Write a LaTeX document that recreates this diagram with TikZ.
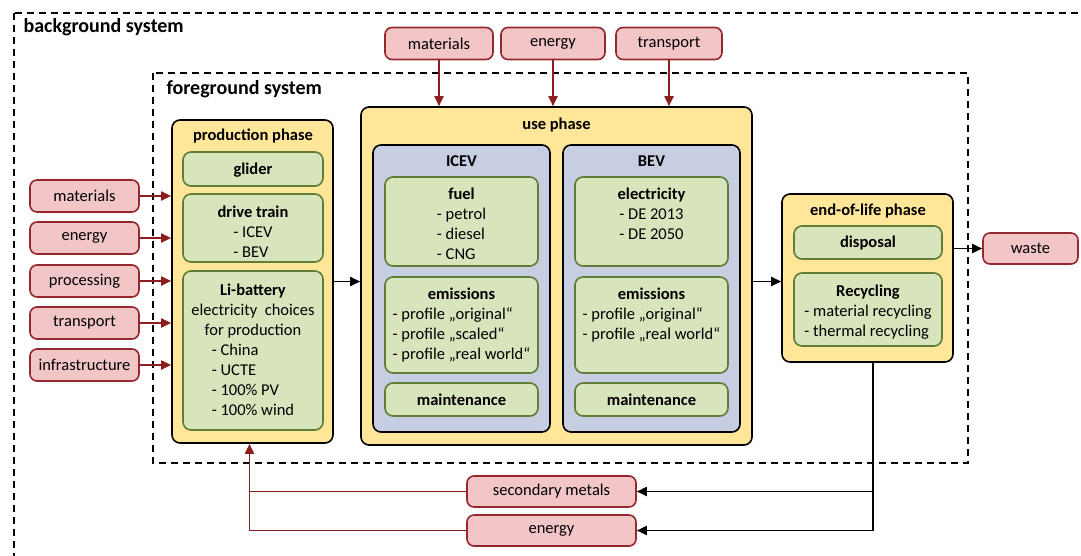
\documentclass[tikz,border=0pt]{standalone}
\usepackage{fontspec}
\setmainfont{Carlito}
\usepackage{tikz}
\usetikzlibrary{arrows.meta}

\definecolor{inred}{HTML}{F2C5C6}
\definecolor{inredline}{HTML}{96282D}
\definecolor{flowred}{HTML}{8C1E1E}
\definecolor{phaseyellow}{HTML}{FFE699}
\definecolor{partgreen}{HTML}{D8E4BC}
\definecolor{partgreenline}{HTML}{5F7D37}
\definecolor{vehblue}{HTML}{C8CEE1}

% stacked lines of a part box, 20pt apart, optionally lowered
\newcommand{\partlines}[2][0pt]{\raisebox{-#1}[\height][\depth]{\begin{tabular}{@{}c@{}}#2\end{tabular}}}
\newcommand{\items}[1]{\begin{tabular}[t]{@{}l@{}}#1\end{tabular}}

\begin{document}
\begin{tikzpicture}[x=1pt,y=-1pt,
        txt/.style={font=\fontsize{16.5}{20}\selectfont},
        hd/.style={font=\fontsize{16.5}{20}\selectfont\bfseries},
        sysname/.style={font=\fontsize{20}{22}\selectfont\bfseries, anchor=west},
        flow/.style={draw=inredline, fill=inred, line width=1.6pt, rounded corners=7pt, minimum height=32pt, txt},
        phase/.style={draw=black, fill=phaseyellow, line width=1.6pt, rounded corners=8pt},
        vehicle/.style={draw=black, fill=vehblue, line width=1.6pt, rounded corners=8pt},
        part/.style={draw=partgreenline, fill=partgreen, line width=1.6pt, rounded corners=8pt, inner sep=0pt, txt}]
        \clip (0,0) rectangle (1081,555);
        \useasboundingbox (0,0) rectangle (1081,555);

        % system borders
        \draw[line width=1.6pt, dash pattern=on 7pt off 5pt] (14,13) rectangle (1100,575);
        \draw[line width=1.6pt, dash pattern=on 7pt off 5pt] (153,73) rectangle (968,463);
        \node[sysname] (bgs) at (20,27) {background system};
        \node[sysname] (fgs) at (163,89) {foreground system};

        \begin{scope}[every node/.style={flow}]
                \node[minimum width=108pt] (M1) at (439,43.5) {materials};
                \node[minimum width=104pt] (En1) at (553,43.5) {energy};
                \node[minimum width=106pt] (T1) at (669,43.5) {transport};

                \node[minimum width=109pt] (M2) at (84.5,196) {materials};
                \node[minimum width=109pt] (En2) at (84.5,238) {energy};
                \node[minimum width=109pt] (P2) at (84.5,281) {processing};
                \node[minimum width=109pt] (T2) at (84.5,323) {transport};
                \node[minimum width=109pt] (I2) at (84.5,365) {infrastructure};

                \node[minimum width=95pt, minimum height=31pt] (W) at (1030.5,248.5) {waste};
                \node[minimum width=169pt, minimum height=31pt] (SM) at (551.5,491.5) {secondary metals};
                \node[minimum width=169pt, minimum height=31pt] (En3) at (551.5,530.5) {energy};
        \end{scope}

        \begin{scope}[every node/.style={phase}]
                \node[minimum width=161pt, minimum height=323pt] (prod) at (252.5,281.5) {};
                \node[minimum width=391pt, minimum height=338pt] (use) at (556.5,276) {};
                \node[minimum width=171pt, minimum height=168pt] (eol) at (867.5,278) {};
        \end{scope}
        \begin{scope}[every node/.style={vehicle}]
                \node[minimum width=177pt, minimum height=287pt] (icev) at (461.5,288.5) {};
                \node[minimum width=177pt, minimum height=287pt] (bev) at (651.5,288.5) {};
        \end{scope}

        \node[hd] (prodT) at (253,136) {production phase};
        \node[hd] (useT) at (556.5,125) {use phase};
        \node[hd] (icevT) at (461.5,161) {ICEV};
        \node[hd] (bevT) at (651.5,161) {BEV};
        \node[hd] (eolT) at (868,211) {end-of-life phase};

        \begin{scope}[every node/.append style={part}]
                \node[minimum width=140pt, minimum height=34pt] (glider) at (253,169) {\partlines[1pt]{\textbf{glider}}};
                \node[minimum width=140pt, minimum height=68pt] (drive) at (253,228)
                        {\partlines[5pt]{\textbf{drive train}\\\items{- ICEV\\- BEV}}};
                \node[minimum width=140pt, minimum height=159pt] (li) at (253,350.5)
                        {\partlines[1pt]{\textbf{Li-battery}\\electricity\ \ choices\\for production\\\items{- China\\- UCTE\\- 100\% PV\\- 100\% wind}}};

                \node[minimum width=153pt, minimum height=89pt] (fuel) at (461.5,221.5)
                        {\partlines[4pt]{\textbf{fuel}\\\items{- petrol\\- diesel\\- CNG}}};
                \node[minimum width=153pt, minimum height=96pt] (emi1) at (461.5,325)
                        {\partlines{\textbf{emissions}\\\items{- profile „original“\\- profile „scaled“\\- profile „real world“}}};
                \node[minimum width=153pt, minimum height=33pt] (mnt1) at (461.5,399.5) {\partlines[1.5pt]{\textbf{maintenance}}};

                \node[minimum width=153pt, minimum height=89pt] (elec) at (651.5,221.5)
                        {\partlines[4pt]{\textbf{electricity}\\\items{- DE 2013\\- DE 2050\\\mbox{}}}};
                \node[minimum width=153pt, minimum height=96pt] (emi2) at (651.5,325)
                        {\partlines{\textbf{emissions}\\\items{- profile „original“\\- profile „real world“\\\mbox{}}}};
                \node[minimum width=153pt, minimum height=33pt] (mnt2) at (651.5,399.5) {\partlines[1.5pt]{\textbf{maintenance}}};

                \node[minimum width=148pt, minimum height=33pt] (disp) at (868,242.5) {\partlines[1pt]{\textbf{disposal}}};
                \node[minimum width=148pt, minimum height=73pt] (recy) at (868,309.5)
                        {\partlines[3pt]{\textbf{Recycling}\\\items{- material recycling\\- thermal recycling}}};
        \end{scope}

        % feedback points
        \coordinate (ret) at ([xshift=-3pt]prod.south);
        \coordinate (tap) at ([xshift=5.5pt]eol.south);

        \begin{scope}[line width=1.8pt, ->, >={Triangle[length=10pt,width=9pt]}, flowred]
                \draw (M1) -- (M1 |- use.north);
                \draw (En1) -- (En1 |- use.north);
                \draw (T1) -- (T1 |- use.north);

                \draw (M2) -- (M2 -| prod.west);
                \draw (En2) -- (En2 -| prod.west);
                \draw (P2) -- (P2 -| prod.west);
                \draw (T2) -- (T2 -| prod.west);
                \draw (I2) -- (I2 -| prod.west);

                \draw (En3.west) -| (ret);
                \draw[-] (SM.west) -- (SM.west -| ret);
        \end{scope}

        \begin{scope}[line width=1.8pt, ->, >={Triangle[length=10pt,width=9pt]}, black]
                \draw (prod.east) -- (prod.east -| use.west);
                \draw (prod.east -| use.east) -- (prod.east -| eol.west);
                \draw (W.west -| eol.east) -- (W.west);
                \draw (tap) |- (En3.east);
                \draw (tap |- SM.east) -- (SM.east);
        \end{scope}
\end{tikzpicture}
\end{document}
